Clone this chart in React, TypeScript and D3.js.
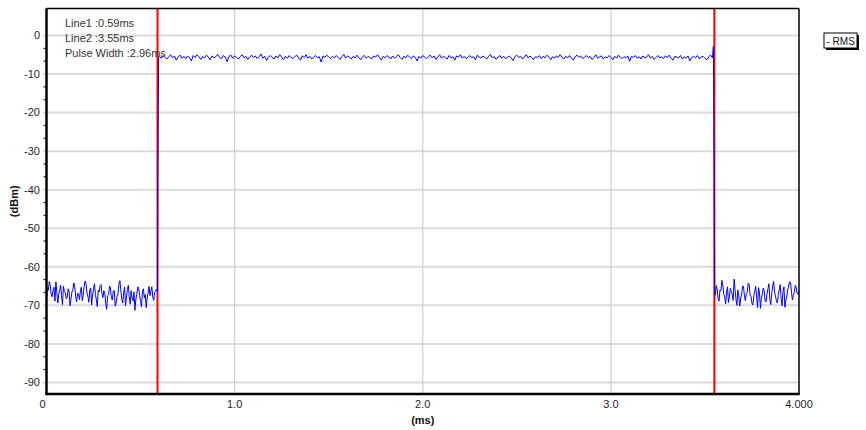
import * as d3 from 'd3';
import React from 'react';

// sampled RMS trace (dBm)
// low segments sampled every 0.005 ms, high segment every 0.01 ms
const lowStartValues = [
  -68.2, -65.4, -66.1, -63.8, -64.9, -67.2, -67.8, -66.0, -65.3, -68.9,
  -63.9, -66.7, -69.4, -67.1, -66.2, -64.8, -67.5, -69.8, -65.0, -66.4,
  -66.8, -68.3, -67.9, -65.7, -66.3, -70.1, -68.4, -66.6, -66.0, -64.2,
  -65.2, -67.7, -69.1, -66.9, -67.0, -68.5, -66.4, -65.3, -68.8, -67.4,
  -65.1, -63.7, -64.3, -66.8, -67.6, -69.2, -66.0, -65.5, -69.9, -67.3,
  -65.8, -64.4, -67.2, -68.6, -70.3, -66.1, -66.5, -64.9, -64.6, -67.0,
  -68.0, -66.2, -66.9, -69.6, -71.0, -67.5, -67.3, -65.0, -65.4, -68.2,
  -68.6, -66.3, -66.1, -70.2, -69.5, -67.6, -67.0, -64.5, -63.6, -66.0,
  -68.3, -69.4, -66.7, -65.3, -70.1, -67.9, -65.9, -64.8, -67.8, -69.7,
  -66.2, -68.1, -68.9, -66.5, -71.3, -68.4, -67.1, -65.2, -65.6, -67.4,
  -69.0, -70.4, -66.4, -65.7, -68.1, -67.2, -70.6, -68.0, -66.8, -65.1,
  -67.5, -66.3, -65.2, -67.9, -68.7, -66.6, -66.3, -65.8,
];
const highValues = [
  -5.4, -5.9, -5.2, -5.7, -6.1, -5.5, -5.0, -5.8, -5.3, -6.4, -5.6, -5.1, -5.9, -5.4, -6.0,
  -5.3, -5.8, -6.6, -5.2, -5.7, -5.0, -5.5, -6.2, -5.4, -5.9, -5.1, -5.6, -6.3, -5.3, -5.8,
  -5.5, -4.9, -5.7, -6.0, -5.2, -5.6, -6.8, -5.4, -5.1, -5.9, -5.3, -5.7, -6.1, -5.5, -5.0,
  -5.8, -5.4, -6.2, -5.6, -5.1, -5.7, -5.3, -6.0, -5.5, -4.8, -5.9, -5.4, -6.5, -5.6, -5.2,
  -5.7, -6.1, -5.3, -5.8, -5.0, -5.6, -6.3, -5.4, -5.9, -5.2, -5.7, -6.0, -5.5, -5.1, -5.8,
  -6.4, -5.3, -5.7, -5.0, -5.9, -5.4, -6.1, -5.6, -5.2, -5.8, -5.5, -6.9, -5.3, -5.7, -5.1,
  -5.6, -6.0, -5.4, -5.8, -5.2, -5.7, -6.2, -5.5, -4.9, -5.9, -5.3, -5.6, -6.1, -5.4, -5.8,
  -5.1, -5.7, -6.3, -5.5, -5.2, -5.9, -5.4, -5.8, -6.0, -5.3, -5.6, -5.0, -5.7, -6.4, -5.4,
  -5.8, -5.2, -5.6, -6.1, -5.3, -5.9, -5.5, -5.0, -5.7, -6.2, -5.4, -5.8, -5.1, -5.6, -6.0,
  -5.3, -5.7, -6.6, -5.4, -5.9, -5.2, -5.6, -6.0, -5.5, -5.1, -5.8, -5.3, -6.2, -5.6, -5.0,
  -5.9, -5.4, -5.7, -6.1, -5.2, -5.8, -5.5, -6.4, -5.3, -5.6, -5.0, -5.9, -5.4, -6.0, -5.7,
  -5.2, -5.8, -5.5, -6.3, -5.1, -5.6, -5.9, -5.3, -5.7, -6.1, -5.4, -4.9, -5.8, -5.5, -6.2,
  -5.6, -5.2, -5.9, -5.4, -6.0, -5.7, -5.3, -5.8, -6.5, -5.5, -5.1, -5.7, -5.4, -6.1, -5.6,
  -5.0, -5.8, -5.3, -5.9, -6.2, -5.5, -5.7, -5.2, -6.0, -5.4, -5.8, -5.1, -5.6, -6.3, -5.5,
  -5.9, -5.3, -5.7, -5.0, -5.6, -6.1, -5.4, -5.8, -5.2, -5.9, -6.4, -5.5, -5.1, -5.7, -5.3,
  -6.0, -5.6, -5.2, -5.8, -5.4, -6.2, -5.7, -5.0, -5.9, -5.5, -5.3, -6.1, -5.6, -5.8, -5.2,
  -5.7, -6.3, -5.4, -5.9, -5.1, -5.6, -6.0, -5.5, -5.8, -5.3, -6.7, -5.4, -5.7, -5.2, -5.9,
  -5.5, -6.1, -5.3, -5.8, -5.6, -5.0, -5.9, -5.4, -6.2, -5.7, -5.2, -5.8, -5.5, -6.0, -5.3,
  -5.7, -5.1, -5.9, -6.4, -5.4, -5.6, -5.8, -5.2, -6.1, -5.5, -5.9, -5.3, -6.6, -5.7, -5.4,
  -5.8, -5.2, -6.0, -5.6, -5.4, -5.9, -6.3, -5.5, -5.1, -5.8,
];
const lowEndValues = [
  -67.4, -64.9, -65.8, -68.3, -68.9, -66.0, -66.2, -63.5, -64.7, -67.1,
  -67.9, -69.6, -66.5, -65.2, -69.3, -67.8, -65.6, -66.4, -67.1, -68.7,
  -63.2, -65.9, -68.4, -70.0, -66.0, -67.5, -70.2, -68.1, -67.3, -65.0,
  -65.1, -67.6, -68.8, -66.9, -66.6, -64.2, -64.5, -67.3, -67.7, -69.5,
  -69.9, -67.4, -66.3, -65.1, -68.1, -70.6, -65.4, -66.8, -70.8, -68.3,
  -67.0, -65.5, -66.2, -68.9, -69.1, -67.0, -65.7, -64.4, -68.5, -69.8,
  -66.9, -65.0, -63.8, -66.5, -67.6, -68.8, -69.4, -67.2, -65.9, -64.6,
  -68.2, -70.1, -66.4, -65.2, -70.5, -68.7, -67.8, -66.0, -65.0, -63.9,
  -64.1, -66.6, -68.6, -67.4, -66.7, -64.8, -65.3, -66.9, -67.2, -66.5,
];
// points on the rising / falling edges [ms, dBm]
const riseEdge = [[0.59, -66.5], [0.592, -36.3], [0.596, -5.6]];
const fallEdge = [[3.545, -2.8], [3.549, -36.0], [3.552, -67.0]];

const markers = [0.59, 3.55];
const labels = ['Line1 :0.59ms', 'Line2 :3.55ms', 'Pulse Width :2.96ms'];
const xTicks = [0, 1, 2, 3, 4];
const xTickLabels = ['0', '1.0', '2.0', '3.0', '4.000'];
const yTicks = [0, -10, -20, -30, -40, -50, -60, -70, -80, -90];
const seriesName = 'RMS';

const W = 866, H = 430;
const margin = { top: 8.5, right: 67, bottom: 36, left: 46.5 };

function spread(vals: number[], t0: number, t1: number) {
  const s = d3.scaleLinear().domain([0, vals.length - 1]).range([t0, t1]);
  return vals.map((v, i) => [s(i), v]);
}

export default function App() {
  const x = d3.scaleLinear().domain([0, 4]).range([margin.left, W - margin.right]);
  const y = d3.scaleLinear().domain([-93, 7]).range([H - margin.bottom, margin.top]);

  const trace = [
    ...spread(lowStartValues, 0, 0.585),
    ...riseEdge,
    ...spread(highValues, 0.60, 3.54),
    ...fallEdge,
    ...spread(lowEndValues, 3.555, 4.0),
  ];
  const line = d3.line<number[]>().x(d => x(d[0])).y(d => y(d[1]));

  // minor ticks on the left axis, two between each major
  const minor: number[] = [];
  yTicks.forEach(t => { minor.push(t - 10 / 3, t - 20 / 3); });

  const font = '"Liberation Sans", Arial, sans-serif';
  const x0 = x(0), x1 = x(4), yb = y(-93), yt = y(7);

  return (
    <svg width={W} height={H} style={{ display: 'block', position: 'absolute', left: 0, top: 0 }} fontFamily={font}>
      <rect width={W} height={H} fill="#fff" />
      {/* grid */}
      {yTicks.map(t => (
        <line key={'gy' + t} x1={x0 - 4} x2={x1} y1={y(t)} y2={y(t)} stroke="#dadada" strokeWidth={2} />
      ))}
      {xTicks.slice(1, 4).map(t => (
        <line key={'gx' + t} x1={x(t)} x2={x(t)} y1={yt} y2={yb} stroke="#cdcdcd" strokeWidth={1.2} />
      ))}
      {minor.filter(m => m > -93 && m < 7).map((m, i) => (
        <line key={'m' + i} x1={x0 - 3} x2={x0} y1={y(m)} y2={y(m)} stroke="#000" strokeWidth={1} />
      ))}
      {/* markers */}
      {markers.map(m => (
        <line key={'mk' + m} x1={x(m)} x2={x(m)} y1={yt} y2={yb} stroke="#ff0000" strokeWidth={2} />
      ))}
      <path d={line(trace) || ''} fill="none" stroke="#0000ff" strokeWidth={1} />
      {/* frame */}
      <line x1={x0} x2={x1} y1={yt} y2={yt} stroke="#000" strokeWidth={1.5} />
      <line x1={x1} x2={x1} y1={yt} y2={yb} stroke="#000" strokeWidth={1.5} />
      <line x1={x0} x2={x0} y1={yt} y2={yb + 1} stroke="#000" strokeWidth={2.5} />
      <line x1={x0 - 1} x2={x1 + 0.7} y1={yb} y2={yb} stroke="#000" strokeWidth={2.5} />
      {/* tick labels */}
      {yTicks.map(t => (
        <text key={'ty' + t} x={40} y={y(t)} dy="0.35em" textAnchor="end" fontSize={11} fill="#1e1e2e">{t}</text>
      ))}
      {xTicks.map((t, i) => (
        <text key={'tx' + t} x={x(t) + (i === 0 ? -4 : 0)} y={404} dy="0.35em" textAnchor="middle" fontSize={11} fill="#1e1e2e">{xTickLabels[i]}</text>
      ))}
      <text x={(x0 + x1) / 2} y={420} dy="0.35em" textAnchor="middle" fontSize={11} fontWeight="bold" fill="#111">(ms)</text>
      <text transform={`translate(14,${(yt + yb) / 2}) rotate(-90)`} dy="0.35em" textAnchor="middle" fontSize={11} fontWeight="bold" fill="#111">(dBm)</text>
      {/* annotations */}
      {labels.map((l, i) => (
        <text key={l} x={65} y={23 + i * 15} dy="0.35em" fontSize={11} fill="#333">{l}</text>
      ))}
      {/* legend */}
      <rect x={826} y={35} width={33} height={15} fill="#000" />
      <rect x={824} y={33} width={33} height={15} fill="#fff" stroke="#000" strokeWidth={1} />
      <text x={826.5} y={41} dy="0.35em" fontSize={10} fill="#111">- {seriesName}</text>
    </svg>
  );
}
